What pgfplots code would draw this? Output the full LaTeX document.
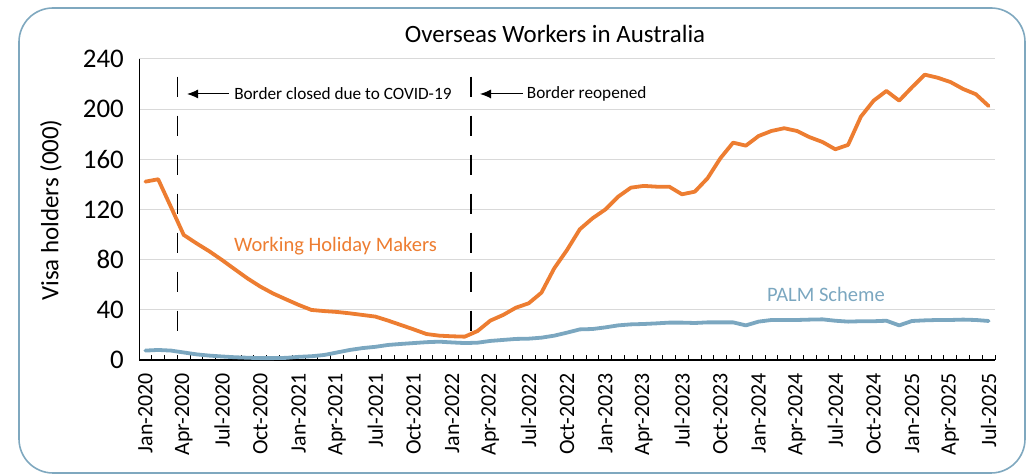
\documentclass[border=0pt]{standalone}
\usepackage{fontspec}
\setmainfont{Carlito}
\usepackage{pgfplots}
\pgfplotsset{compat=1.18}
\usetikzlibrary{arrows.meta}
\definecolor{whm}{HTML}{ED7D31}
\definecolor{palm}{HTML}{7BA7C0}
\definecolor{framec}{HTML}{7FA8BF}
\definecolor{gridc}{HTML}{D9D9D9}
\begin{document}
\begin{tikzpicture}[x=1bp,y=1bp]
\useasboundingbox (0,0) rectangle (1027,476);
\draw[framec, line width=1.6bp, rounded corners=34bp] (19,468) rectangle (1025,3);
\node[font=\fontsize{25}{30}\selectfont] at (555,442) {Overseas Workers in Australia};
\node[font=\fontsize{25}{30}\selectfont, rotate=90] at (51,266) {Visa holders (000)};
\begin{axis}[
  at={(139bp,116bp)}, anchor=south west,
  scale only axis, width=856bp, height=301bp,
  xmin=-0.5, xmax=66.5, ymin=0, ymax=240,
  clip=false,
  axis lines*=left,
  x axis line style={line width=1.5bp, black},
  y axis line style={line width=1bp, black},
  ytick={0,40,...,240},
  ymajorgrids, grid style={gridc, line width=1bp},
  xtick={0,3,...,66},
  xticklabels={Jan-2020,Apr-2020,Jul-2020,Oct-2020,Jan-2021,Apr-2021,Jul-2021,Oct-2021,Jan-2022,Apr-2022,Jul-2022,Oct-2022,Jan-2023,Apr-2023,Jul-2023,Oct-2023,Jan-2024,Apr-2024,Jul-2024,Oct-2024,Jan-2025,Apr-2025,Jul-2025},
  minor xtick={-0.5,0.5,...,66.5},
  major tick length=0pt,
  minor tick length=5bp,
  tick align=inside,
  minor tick style={black, line width=1bp},
  /pgf/number format/assume math mode=true,
  yticklabel style={font=\fontsize{27}{30}\selectfont, inner sep=0pt, anchor=east},
  yticklabel shift=15bp,
  xticklabel style={font=\fontsize{22}{26}\selectfont, inner sep=0pt, rotate=90, anchor=east},
  xticklabel shift=13bp,
]
\addplot[palm, line width=3.8bp, line join=round, line cap=round] coordinates {
(0,7.5)(1,8)(2,7.5)(3,6)(4,4.5)(5,3.5)(6,2.8)(7,2.2)(8,1.8)(9,1.5)(10,1.5)(11,1.7)(12,2.5)(13,3)(14,4)(15,6)(16,8)(17,9.5)(18,10.5)(19,12)(20,12.8)(21,13.5)(22,14.2)(23,14.6)(24,14)(25,13.5)(26,13.8)(27,15.2)(28,16)(29,16.8)(30,17)(31,17.8)(32,19.4)(33,21.8)(34,24.4)(35,24.7)(36,26)(37,27.6)(38,28.4)(39,28.7)(40,29.2)(41,29.8)(42,29.8)(43,29.5)(44,30)(45,30)(46,30)(47,27.6)(48,30.6)(49,31.9)(50,31.9)(51,31.9)(52,32.2)(53,32.4)(54,31.3)(55,30.6)(56,30.9)(57,30.9)(58,31.3)(59,27.6)(60,31.1)(61,31.6)(62,31.9)(63,31.9)(64,32.2)(65,31.9)(66,31.1)
};
\addplot[whm, line width=3.8bp, line join=round, line cap=round] coordinates {
(0,142.2)(1,144.1)(2,122)(3,99.7)(4,93)(5,86.7)(6,79.7)(7,72.3)(8,65)(9,58.5)(10,53)(11,48.4)(12,43.9)(13,39.9)(14,39)(15,38.3)(16,37.2)(17,35.9)(18,34.6)(19,31.4)(20,27.9)(21,24.4)(22,20.7)(23,19.4)(24,18.9)(25,18.6)(26,23.1)(27,31.4)(28,35.9)(29,41.7)(30,45.2)(31,53.7)(32,73.1)(33,87.7)(34,104.2)(35,113)(36,120)(37,130.2)(38,137.4)(39,138.8)(40,138.2)(41,138.2)(42,132.1)(43,134.2)(44,144.9)(45,160.8)(46,173.3)(47,170.9)(48,178.6)(49,182.6)(50,184.8)(51,182.6)(52,177.6)(53,173.8)(54,168)(55,171.5)(56,194)(57,206.8)(58,214.5)(59,206.8)(60,217.4)(61,227.5)(62,225.1)(63,221.7)(64,216.1)(65,211.9)(66,202.5)
};
\draw[black, line width=1.5bp, dash pattern=on 20bp off 19bp] (axis cs:2.5,225.9) -- (axis cs:2.5,22.6);
\draw[black, line width=1.5bp, dash pattern=on 20bp off 19bp] (axis cs:25.5,225.9) -- (axis cs:25.5,22.6);
\draw[black, line width=1bp, -{Latex[length=11bp,width=9bp]}] (axis cs:6.54,212.1) -- (axis cs:3.26,212.1);
\node[anchor=west, inner sep=0pt, font=\fontsize{17.3}{20}\selectfont] at (axis cs:6.94,212.1) {Border closed due to COVID-19};
\draw[black, line width=1bp, -{Latex[length=11bp,width=9bp]}] (axis cs:29.53,212.1) -- (axis cs:26.19,212.1);
\node[anchor=west, inner sep=0pt, font=\fontsize{17.3}{20}\selectfont] at (axis cs:29.85,212.1) {Border reopened};
\node[whm, font=\fontsize{20.6}{24}\selectfont] at (axis cs:14.88,90.9) {Working Holiday Makers};
\node[palm, font=\fontsize{20.6}{24}\selectfont] at (axis cs:53.27,52.6) {PALM Scheme};
\end{axis}
\end{tikzpicture}
\end{document}
